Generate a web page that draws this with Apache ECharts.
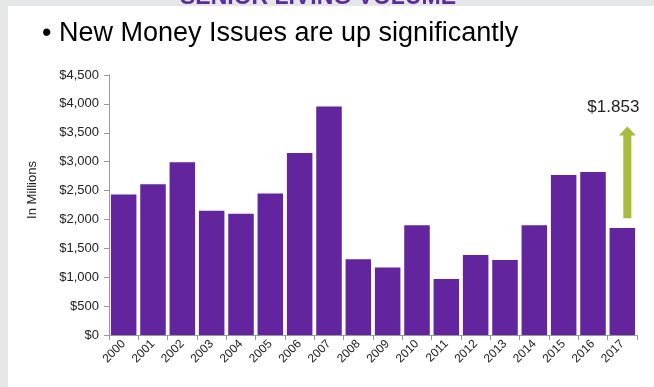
<!DOCTYPE html>
<html>
<head>
<meta charset="utf-8">
<script src="https://cdn.jsdelivr.net/npm/echarts@6/dist/echarts.min.js"></script>
<style>
html,body{margin:0;padding:0;background:#ffffff;}
#c{width:654px;height:387px;}
</style>
</head>
<body>
<div id="c"></div>
<script>
var years = ['2000','2001','2002','2003','2004','2005','2006','2007','2008','2009','2010','2011','2012','2013','2014','2015','2016','2017'];
var newMoneyIssues = [2430, 2610, 2990, 2150, 2100, 2450, 3150, 3955, 1310, 1170, 1900, 970, 1385, 1300, 1900, 2770, 2820, 1853];
var yTicks = [0, 500, 1000, 1500, 2000, 2500, 3000, 3500, 4000, 4500];
var titleText = '\u2022 New Money Issues are up significantly';
var headingText = 'SENIOR LIVING VOLUME';
var axisNameText = 'In Millions';
var annotationText = '$1.853';
var arrowFromValue = 2020;
var arrowToValue = 3610;
var annotationValue = 3945;

var FONT = 'Liberation Sans, Arial, Helvetica, sans-serif';
var chart = echarts.init(document.getElementById('c'), null, {renderer: 'canvas'});

function fmt(v) {
  return '$' + String(v).replace(/\B(?=(\d{3})+(?!\d))/g, ',');
}

var option = {
  backgroundColor: '#ffffff',
  animation: false,
  title: {
    text: titleText,
    left: 37,
    top: 15,
    textStyle: {fontFamily: FONT, fontSize: 27, fontWeight: 'normal', color: '#000'}
  },
  grid: {left: 109, right: 17, top: 75, bottom: 52},
  xAxis: {
    type: 'category',
    data: years,
    axisLine: {lineStyle: {color: '#9a9a9a', width: 1}},
    axisTick: {show: true, length: 5, lineStyle: {color: '#9a9a9a'}},
    axisLabel: {rotate: 45, fontSize: 12, color: '#222', fontFamily: FONT, margin: 7, interval: 0}
  },
  yAxis: {
    type: 'value',
    min: yTicks[0],
    max: yTicks[yTicks.length - 1],
    interval: yTicks[1] - yTicks[0],
    axisLine: {show: true, lineStyle: {color: '#9a9a9a', width: 1}},
    axisTick: {show: true, length: 5, lineStyle: {color: '#9a9a9a'}},
    splitLine: {show: false},
    axisLabel: {formatter: fmt, fontSize: 13, color: '#222', fontFamily: FONT, margin: 10}
  },
  series: [{
    type: 'bar',
    data: newMoneyIssues,
    barCategoryGap: '13%',
    itemStyle: {color: '#62259d'}
  }]
};
chart.setOption(option);

var pBottom = chart.convertToPixel({gridIndex: 0}, [years.length - 1, arrowFromValue]);
var pTop = chart.convertToPixel({gridIndex: 0}, [years.length - 1, arrowToValue]);
var pLab = chart.convertToPixel({gridIndex: 0}, [years.length - 1, annotationValue]);
var pMid = chart.convertToPixel({gridIndex: 0}, [0, (yTicks[0] + yTicks[yTicks.length - 1]) / 2]);
var cx = pBottom[0] + 5;
var headH = 9, headW = 17, shaftW = 8;

chart.setOption({
  graphic: [
    {type: 'rect', z: 0, silent: true, shape: {x: 0, y: 0, width: 654, height: 6}, style: {fill: '#e5e6e8'}},
    {type: 'rect', z: 0, silent: true, shape: {x: 0, y: 0, width: 8, height: 387}, style: {fill: '#e5e6e8'}},
    {type: 'text', z: 1, left: 180, top: -14,
      style: {text: headingText, font: 'bold 23px ' + FONT, fill: '#5b2ca0'}},
    {type: 'rect', z: 2, silent: true, shape: {x: 8, y: 6, width: 646, height: 12}, style: {fill: '#ffffff'}},
    {type: 'text', z: 3, rotation: Math.PI / 2, x: 32, y: pMid[1] - 15,
      style: {text: axisNameText, font: '13px ' + FONT, fill: '#222', align: 'center', verticalAlign: 'middle'}},
    {type: 'polygon', z: 3,
      shape: {points: [
        [cx - shaftW / 2, pBottom[1]], [cx + shaftW / 2, pBottom[1]],
        [cx + shaftW / 2, pTop[1] + headH], [cx + headW / 2, pTop[1] + headH],
        [cx, pTop[1]], [cx - headW / 2, pTop[1] + headH],
        [cx - shaftW / 2, pTop[1] + headH]
      ]},
      style: {fill: '#a9ba3c'}},
    {type: 'text', z: 3, x: cx + 12, y: pLab[1],
      style: {text: annotationText, font: '17px ' + FONT, fill: '#222', align: 'right', verticalAlign: 'middle'}}
  ]
});
</script>
</body>
</html>
